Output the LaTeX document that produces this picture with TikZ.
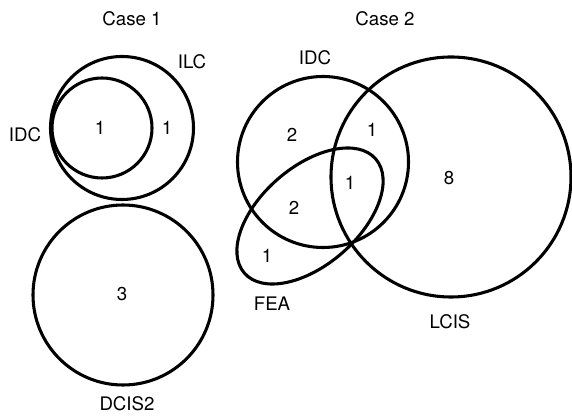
\documentclass[tikz,border=0pt]{standalone}
\usepackage{fontspec}
\setmainfont{TeX Gyre Heros}
\tikzset{
  set/.style={line width=2.3pt},
  lbl/.style={font=\fontsize{14}{16}\selectfont, inner sep=0pt}
}
\begin{document}
\begin{tikzpicture}[x=0.75pt, y=-0.75pt]
    \useasboundingbox (0,0) rectangle (572,416);

    % Caso 1
    \node[lbl] (case1) at (132,19) {Case 1};
    \coordinate (ilc) at (122,128);
    \coordinate (idcA) at (102,128);
    \coordinate (dcis) at (123,295);
    \draw[set] (ilc) circle (71.5);
    \draw[set] (idcA) circle (50);
    \draw[set] (dcis) circle (90);

    \node[lbl] (ilcL) at (192,62) {ILC};
    \node[lbl] (idcAL) at (25,135) {IDC};
    \node[lbl] (nA1) at (100,128) {1};
    \node[lbl] (nA2) at (167,128) {1};
    \node[lbl] (nA3) at (122,294) {3};
    \node[lbl] (dcisL) at (127,404) {DCIS2};

    % Caso 2
    \node[lbl] (case2) at (385,19) {Case 2};
    \coordinate (idcB) at (323,162);
    \coordinate (lcis) at (451,177);
    \coordinate (fea) at (310,216);
    \draw[set] (idcB) circle (85.5);
    \draw[set] (lcis) circle (120);
    \draw[set, rotate around={41:(fea)}] (fea) ellipse (87 and 49);

    \node[lbl] (idcBL) at (315,58) {IDC};
    \node[lbl] (lcisL) at (450,322) {LCIS};
    \node[lbl] (feaL) at (272,304) {FEA};
    \node[lbl] (nB1) at (292,135) {2};
    \node[lbl] (nB2) at (372,130) {1};
    \node[lbl] (nB3) at (350,183) {1};
    \node[lbl] (nB4) at (449,178) {8};
    \node[lbl] (nB5) at (294,208) {2};
    \node[lbl] (nB6) at (267,256) {1};
\end{tikzpicture}
\end{document}
